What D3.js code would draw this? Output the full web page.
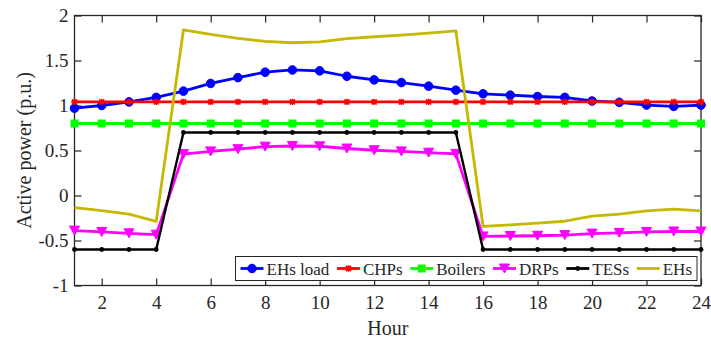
<!DOCTYPE html>
<html>
<head>
<meta charset="utf-8">
<script src="https://cdn.jsdelivr.net/npm/d3@7"></script>
<style>
  html, body { margin: 0; padding: 0; background: #fff; }
  svg { display: block; font-family: "Liberation Serif", "Times New Roman", serif; }
</style>
</head>
<body>
<svg id="chart" width="711" height="342"></svg>
<script>
// Hourly active power of the energy hubs (p.u.)
const hours = d3.range(1, 25);
const ehsLoad = [0.97, 1.00, 1.04, 1.09, 1.16, 1.245, 1.31, 1.37, 1.395, 1.385, 1.325, 1.285, 1.255, 1.215, 1.17, 1.13, 1.115, 1.10, 1.09, 1.05, 1.035, 1.005, 0.99, 1.005];
const chps = [1.04, 1.04, 1.04, 1.04, 1.04, 1.04, 1.04, 1.04, 1.04, 1.04, 1.04, 1.04, 1.04, 1.04, 1.04, 1.04, 1.04, 1.04, 1.04, 1.04, 1.04, 1.04, 1.04, 1.04];
const boilers = [0.8, 0.8, 0.8, 0.8, 0.8, 0.8, 0.8, 0.8, 0.8, 0.8, 0.8, 0.8, 0.8, 0.8, 0.8, 0.8, 0.8, 0.8, 0.8, 0.8, 0.8, 0.8, 0.8, 0.8];
const drps = [-0.39, -0.405, -0.42, -0.435, 0.46, 0.49, 0.515, 0.543, 0.55, 0.547, 0.522, 0.503, 0.49, 0.476, 0.462, -0.455, -0.45, -0.447, -0.44, -0.423, -0.415, -0.405, -0.40, -0.40];
const tess = [-0.6, -0.6, -0.6, -0.6, 0.7, 0.7, 0.7, 0.7, 0.7, 0.7, 0.7, 0.7, 0.7, 0.7, 0.7, -0.6, -0.6, -0.6, -0.6, -0.6, -0.6, -0.6, -0.6, -0.6];
const ehs = [-0.135, -0.168, -0.207, -0.288, 1.84, 1.79, 1.746, 1.713, 1.697, 1.708, 1.742, 1.764, 1.783, 1.805, 1.83, -0.344, -0.327, -0.307, -0.286, -0.229, -0.207, -0.17, -0.152, -0.17];

const seriesNames = ["EHs load", "CHPs", "Boilers", "DRPs", "TESs", "EHs"];
const seriesColors = ["#0000ff", "#ff0000", "#00ff00", "#ff00ff", "#000000", "#c4b800"];
const seriesMarkers = ["circle", "star", "square", "triangle", "dot", "none"];
const seriesValues = [ehsLoad, chps, boilers, drps, tess, ehs];

const xTicks = d3.range(2, 25, 2);
const yTicks = [-1, -0.5, 0, 0.5, 1, 1.5, 2];

const svg = d3.select("#chart");
const plot = { left: 74.5, right: 701, top: 15.5, bottom: 285.5 };
const axisColor = "#262626";

const x = d3.scaleLinear().domain([1, 24]).range([plot.left, plot.right]);
const y = d3.scaleLinear().domain([-1, 2]).range([plot.bottom, plot.top]);

// axes: ticks point inward, labels outside
const tickLen = 7;
const xAxis = d3.axisBottom(x).tickValues(xTicks).tickSizeInner(-tickLen).tickSizeOuter(0).tickPadding(10).tickFormat(d3.format("d"));
const yAxis = d3.axisLeft(y).tickValues(yTicks).tickSizeInner(-tickLen).tickSizeOuter(0).tickPadding(6).tickFormat(d => String(d));
const xTop = d3.axisTop(x).tickValues(xTicks).tickSizeInner(-tickLen).tickSizeOuter(0).tickFormat("");
const yRight = d3.axisRight(y).tickValues(yTicks).tickSizeInner(-tickLen).tickSizeOuter(0).tickFormat("");

function styleAxis(g) {
  g.select(".domain").remove();
  g.selectAll(".tick line").attr("stroke", axisColor).attr("stroke-width", 1.2);
  g.selectAll(".tick text").attr("fill", axisColor).attr("font-size", 19).attr("font-family", "Liberation Serif, serif");
}

svg.append("g").attr("transform", `translate(0,${plot.bottom})`).call(xAxis).call(styleAxis);
svg.append("g").attr("transform", `translate(${plot.left},0)`).call(yAxis).call(styleAxis);
svg.append("g").attr("transform", `translate(0,${plot.top})`).call(xTop).call(styleAxis);
svg.append("g").attr("transform", `translate(${plot.right},0)`).call(yRight).call(styleAxis);

// box
svg.append("rect")
  .attr("x", plot.left).attr("y", plot.top)
  .attr("width", plot.right - plot.left).attr("height", plot.bottom - plot.top)
  .attr("fill", "none").attr("stroke", axisColor).attr("stroke-width", 1.3);

// marker drawing
function drawMarker(g, kind, color, cx, cy) {
  if (kind === "circle") {
    g.append("circle").attr("cx", cx).attr("cy", cy).attr("r", 4.3).attr("fill", color).attr("stroke", color).attr("stroke-width", 1);
  } else if (kind === "square") {
    g.append("rect").attr("x", cx - 4).attr("y", cy - 4).attr("width", 8).attr("height", 8).attr("fill", color);
  } else if (kind === "triangle") {
    g.append("path").attr("d", `M${cx - 5},${cy - 4.5}L${cx + 5},${cy - 4.5}L${cx},${cy + 4.5}Z`).attr("fill", color).attr("stroke", color).attr("stroke-width", 1);
  } else if (kind === "star") {
    const s = 3.2;
    g.append("path")
      .attr("d", `M${cx - s},${cy}L${cx + s},${cy}M${cx},${cy - s}L${cx},${cy + s}M${cx - s * 0.8},${cy - s * 0.8}L${cx + s * 0.8},${cy + s * 0.8}M${cx - s * 0.8},${cy + s * 0.8}L${cx + s * 0.8},${cy - s * 0.8}`)
      .attr("stroke", color).attr("stroke-width", 1.6).attr("fill", "none");
  } else if (kind === "dot") {
    g.append("circle").attr("cx", cx).attr("cy", cy).attr("r", 2.4).attr("fill", color);
  }
}

const line = d3.line().x((d, i) => x(hours[i])).y(d => y(d));

seriesValues.forEach((vals, k) => {
  const g = svg.append("g");
  g.append("path").datum(vals).attr("d", line)
    .attr("fill", "none").attr("stroke", seriesColors[k])
    .attr("stroke-width", k === 4 ? 2.4 : 2.8).attr("stroke-linejoin", "round");
  vals.forEach((v, i) => drawMarker(g, seriesMarkers[k], seriesColors[k], x(hours[i]), y(v)));
});

// axis titles
svg.append("text")
  .attr("x", (plot.left + plot.right) / 2).attr("y", 335)
  .attr("text-anchor", "middle").attr("font-size", 20).attr("fill", axisColor)
  .text("Hour");
svg.append("text")
  .attr("transform", `translate(31,${(plot.top + plot.bottom) / 2}) rotate(-90)`)
  .attr("text-anchor", "middle").attr("font-size", 20).attr("fill", axisColor)
  .text("Active power (p.u.)");

// legend
const leg = { left: 235.5, right: 697, top: 256.5, bottom: 280.5 };
const legG = svg.append("g");
legG.append("rect")
  .attr("x", leg.left).attr("y", leg.top)
  .attr("width", leg.right - leg.left).attr("height", leg.bottom - leg.top)
  .attr("fill", "#fff").attr("stroke", axisColor).attr("stroke-width", 1);

const sampleLen = 23, textGap = 3;
const texts = seriesNames.map(n => {
  const t = legG.append("text").attr("font-size", 17).attr("fill", axisColor).text(n);
  return { t, w: t.node().getComputedTextLength() };
});
const inner = leg.right - leg.left - 10;
const used = texts.reduce((a, o) => a + o.w + sampleLen + textGap, 0);
const gap = (inner - used) / (seriesNames.length - 1);
let cx = leg.left + 5;
const cy = (leg.top + leg.bottom) / 2;
texts.forEach((o, k) => {
  legG.append("line").attr("x1", cx).attr("x2", cx + sampleLen).attr("y1", cy).attr("y2", cy)
    .attr("stroke", seriesColors[k]).attr("stroke-width", 2.8);
  drawMarker(legG, seriesMarkers[k], seriesColors[k], cx + sampleLen / 2, cy);
  o.t.attr("x", cx + sampleLen + textGap).attr("y", cy + 6);
  cx += sampleLen + textGap + o.w + gap;
});
</script>
</body>
</html>
